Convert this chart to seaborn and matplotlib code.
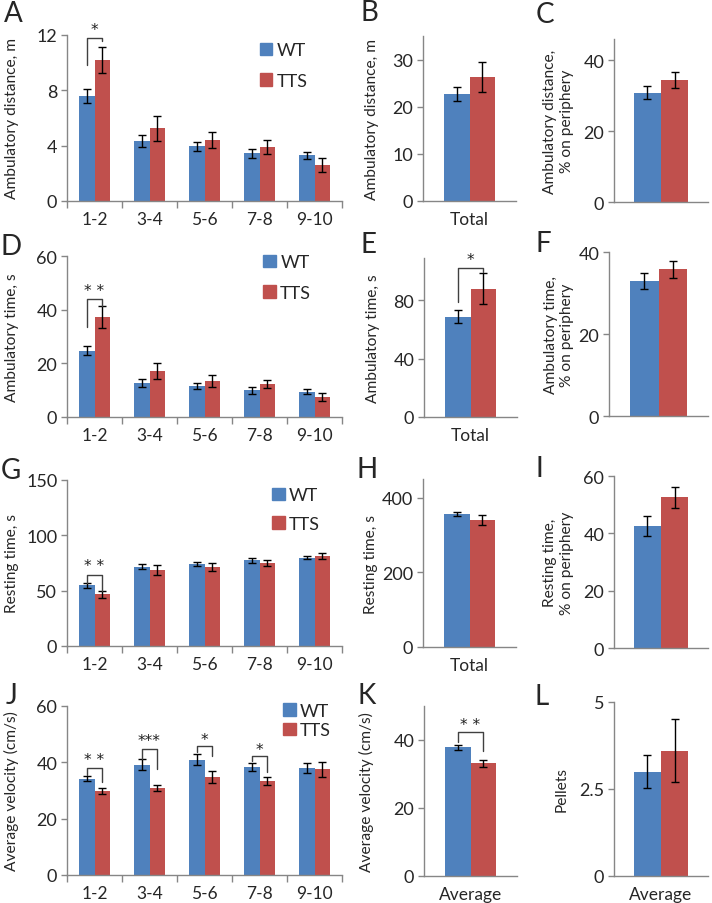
import numpy as np
import pandas as pd
import matplotlib
matplotlib.use("Agg")
import matplotlib.pyplot as plt
import matplotlib.patches as mpatches
from matplotlib.container import BarContainer
import seaborn as sns

sns.set_style("white")
plt.rcParams['font.family'] = ['Lato', 'DejaVu Sans']

# ---------------- data ----------------
periods = ["1-2", "3-4", "5-6", "7-8", "9-10"]
groups = ["WT", "TTS"]

dist_wt = [7.6, 4.35, 3.95, 3.45, 3.3]
dist_wt_err = [0.5, 0.45, 0.3, 0.33, 0.25]
dist_tts = [10.2, 5.25, 4.4, 3.9, 2.6]
dist_tts_err = [0.95, 0.9, 0.6, 0.48, 0.48]

time_wt = [24.7, 12.6, 11.5, 9.9, 9.4]
time_wt_err = [1.7, 1.5, 1.2, 1.2, 1.0]
time_tts = [37.2, 17.3, 13.4, 12.2, 7.4]
time_tts_err = [4.0, 3.0, 2.1, 1.5, 1.6]

rest_wt = [54.8, 71.7, 74.1, 77.4, 79.8]
rest_wt_err = [2.3, 2.4, 2.0, 2.4, 1.6]
rest_tts = [46.7, 68.7, 71.1, 74.7, 81.6]
rest_tts_err = [3.0, 4.6, 3.5, 2.6, 2.8]

vel_wt = [34.2, 39.2, 41.0, 38.4, 38.0]
vel_wt_err = [1.0, 1.9, 1.9, 1.5, 1.7]
vel_tts = [29.9, 31.0, 34.8, 33.4, 37.5]
vel_tts_err = [1.1, 1.1, 2.0, 1.4, 2.6]

# single-category panels: [WT, TTS], [WT err, TTS err]
total_dist = [22.7, 26.3]; total_dist_err = [1.5, 3.1]
perif_dist = [30.9, 34.4]; perif_dist_err = [1.9, 2.3]
total_time = [68.6, 88.0]; total_time_err = [4.5, 10.7]
perif_time = [33.0, 35.8]; perif_time_err = [2.0, 2.1]
total_rest = [356.6, 340.7]; total_rest_err = [6.0, 14.0]
perif_rest = [42.6, 52.6]; perif_rest_err = [3.5, 3.6]
avg_vel = [37.8, 33.1]; avg_vel_err = [0.8, 1.1]
pellets = [3.0, 3.6]; pellets_err = [0.48, 0.9]

BLUE = "#4F81BD"
RED = "#C0504D"
GRAY = "#868686"

W, H = 712, 904
fig = plt.figure(figsize=(W / 100, H / 100), dpi=100)


def add_ax(x0, x1, ytop, ybot):
    return fig.add_axes([x0 / W, 1 - ybot / H, (x1 - x0) / W, (ybot - ytop) / H])


def style(ax, ylim, yticks, fmt=None):
    ax.set_ylim(*ylim)
    ax.set_yticks(yticks)
    if fmt:
        ax.set_yticklabels([fmt(t) for t in yticks])
    for s in ["top", "right"]:
        ax.spines[s].set_visible(False)
    for s in ["left", "bottom"]:
        ax.spines[s].set_color(GRAY)
        ax.spines[s].set_linewidth(1.0)
    ax.tick_params(axis="y", direction="out", length=4, color=GRAY, width=1,
                   labelsize=13, pad=3, left=True)
    ax.tick_params(axis="x", labelsize=12.5, length=0, pad=7)
    ax.set_xlabel("")


def bar_conts(ax):
    return [c for c in ax.containers if isinstance(c, BarContainer)]


def bar_centers(ax):
    return [[b.get_x() + b.get_width() / 2 for b in c] for c in bar_conts(ax)]


def group_panel(ax, wt, wt_err, tts, tts_err, width):
    df = pd.DataFrame({
        "period": periods * 2,
        "group": ["WT"] * len(periods) + ["TTS"] * len(periods),
        "value": list(wt) + list(tts),
    })
    sns.barplot(data=df, x="period", y="value", hue="group", hue_order=groups,
                palette=[BLUE, RED], width=width, errorbar=None, saturation=1,
                legend=False, ax=ax, linewidth=0, edgecolor="none")
    centers = bar_centers(ax)
    for xs, vals, errs in zip(centers, [wt, tts], [wt_err, tts_err]):
        ax.errorbar(xs, vals, yerr=errs, fmt="none", ecolor="black",
                    elinewidth=1, capsize=2.6, capthick=1)
    ax.set_xlim(-0.5, len(periods) - 0.5)
    ax.set_xticks(np.arange(len(periods) + 1) - 0.5, minor=True)
    ax.tick_params(axis="x", which="minor", length=5, color=GRAY, width=1,
                   bottom=True, direction="out")


def single_panel(ax, vals, errs, cat, width):
    df = pd.DataFrame({"cat": [cat, cat], "group": groups, "value": vals})
    sns.barplot(data=df, x="cat", y="value", hue="group", hue_order=groups,
                palette=[BLUE, RED], width=width, errorbar=None, saturation=1,
                legend=False, ax=ax, linewidth=0, edgecolor="none")
    xs = [c[0] for c in bar_centers(ax)]
    for x, v, e in zip(xs, vals, errs):
        ax.errorbar([x], [v], yerr=[e], fmt="none", ecolor="black",
                    elinewidth=1, capsize=2.6, capthick=1)
    ax.set_xlim(-0.5, 0.5)


def bracket(ax, x_left, x_right, y_left, y_top, y_right, label, y_text):
    ax.plot([x_left, x_left, x_right, x_right], [y_left, y_top, y_top, y_right],
            color="#404040", lw=1.0, clip_on=False)
    ax.text((x_left + x_right) / 2, y_text, label, ha="center", va="center",
            fontsize=11, clip_on=False, color="#202020",
            family=["DejaVu Sans"])


def legend(ax, x, y, spacing):
    handles = [mpatches.Patch(color=BLUE, label="WT"),
               mpatches.Patch(color=RED, label="TTS")]
    ax.legend(handles=handles, loc="upper left", bbox_to_anchor=(x, y),
              frameon=False, fontsize=13, handlelength=0.7, handleheight=0.7,
              handletextpad=0.25, labelspacing=spacing, borderpad=0,
              borderaxespad=0)


def letter(x, y, s):
    fig.text(x / W, 1 - y / H, s, fontsize=20, ha="center", va="center")


def ylab(ax, text, xfrac):
    ax.set_ylabel(text, fontsize=11.2, multialignment="center")
    ax.yaxis.set_label_coords(xfrac, 0.5)


# ---------------- Row 1 ----------------
axA = add_ax(67, 342, 36, 202)
group_panel(axA, dist_wt, dist_wt_err, dist_tts, dist_tts_err, 0.58)
style(axA, (0, 12), [0, 4, 8, 12])
ylab(axA, "Ambulatory distance, m", -0.175)
legend(axA, 0.70, 0.955, 0.8)
c = bar_centers(axA)
bracket(axA, c[0][0], c[1][0], 9.8, 11.8, 11.6, "*", 12.4)

axB = add_ax(423, 516, 37, 202)
single_panel(axB, total_dist, total_dist_err, "Total", 0.55)
style(axB, (0, 35), [0, 10, 20, 30])
ylab(axB, "Ambulatory distance, m", -0.47)

axC = add_ax(614, 708, 40, 203)
single_panel(axC, perif_dist, perif_dist_err, "", 0.58)
style(axC, (0, 46), [0, 20, 40])
ylab(axC, "Ambulatory distance,\n% on periphery", -0.43)

# ---------------- Row 2 ----------------
axD = add_ax(67, 342, 257, 418)
group_panel(axD, time_wt, time_wt_err, time_tts, time_tts_err, 0.58)
style(axD, (0, 60), [0, 20, 40, 60])
ylab(axD, "Ambulatory time, s", -0.175)
legend(axD, 0.713, 1.01, 0.8)
c = bar_centers(axD)
bracket(axD, c[0][0], c[1][0], 33.4, 43.9, 41.2, "* *", 47.0)

axE = add_ax(424, 517, 259, 418)
single_panel(axE, total_time, total_time_err, "Total", 0.55)
style(axE, (0, 109), [0, 40, 80])
ylab(axE, "Ambulatory time, s", -0.47)
c = bar_centers(axE)
bracket(axE, c[0][0], c[1][0], 78.9, 102.4, 99.5, "*", 108.0)

axF = add_ax(609, 708, 253, 417)
single_panel(axF, perif_time, perif_time_err, "", 0.57)
style(axF, (0, 40), [0, 20, 40])
ylab(axF, "Ambulatory time,\n% on periphery", -0.35)

# ---------------- Row 3 ----------------
axG = add_ax(67, 342, 481, 647)
group_panel(axG, rest_wt, rest_wt_err, rest_tts, rest_tts_err, 0.58)
style(axG, (0, 150), [0, 50, 100, 150])
ylab(axG, "Resting time, s", -0.175)
legend(axG, 0.745, 0.955, 0.7)
c = bar_centers(axG)
bracket(axG, c[0][0], c[1][0], 56.6, 64.2, 49.7, "* *", 72.3)

axH = add_ax(423, 516, 480, 648)
single_panel(axH, total_rest, total_rest_err, "Total", 0.55)
style(axH, (0, 450), [0, 200, 400])
ylab(axH, "Resting time, s", -0.48)

axI = add_ax(614, 708, 477, 649)
single_panel(axI, perif_rest, perif_rest_err, "", 0.58)
style(axI, (0, 60), [0, 20, 40, 60])
ylab(axI, "Resting time,\n% on periphery", -0.43)

# ---------------- Row 4 ----------------
axJ = add_ax(67, 342, 707, 876)
group_panel(axJ, vel_wt, vel_wt_err, vel_tts, vel_tts_err, 0.58)
style(axJ, (0, 60), [0, 20, 40, 60])
ylab(axJ, "Average velocity (cm/s)", -0.175)
legend(axJ, 0.785, 1.02, 0.2)
c = bar_centers(axJ)
bracket(axJ, c[0][0], c[1][0], 35.4, 37.9, 33.1, "* *", 41.1)
bracket(axJ, c[0][1], c[1][1], 41.1, 44.6, 37.8, "***", 47.6)
bracket(axJ, c[0][2], c[1][2], 43.5, 45.8, 42.3, "*", 48.2)
bracket(axJ, c[0][3], c[1][3], 40.5, 42.3, 36.4, "*", 44.6)

axK = add_ax(424, 517, 707, 877)
single_panel(axK, avg_vel, avg_vel_err, "Average", 0.55)
style(axK, (0, 50), [0, 20, 40])
ylab(axK, "Average velocity (cm/s)", -0.54)
c = bar_centers(axK)
bracket(axK, c[0][0], c[1][0], 39.5, 42.3, 36.9, "* *", 44.7)

axL = add_ax(614, 708, 703, 877)
single_panel(axL, pellets, pellets_err, "Average", 0.58)
style(axL, (0, 5), [0, 2.5, 5], fmt=lambda t: f"{t:g}")
ylab(axL, "Pellets", -0.48)

# ---------------- panel letters ----------------
for (x, y, s) in [(13, 14, "A"), (369, 13, "B"), (545, 15, "C"),
                  (11, 247, "D"), (368, 245, "E"), (543, 244, "F"),
                  (11, 471, "G"), (367, 470, "H"), (539, 469, "I"),
                  (12, 696, "J"), (367, 696, "K"), (542, 697, "L")]:
    letter(x, y, s)

fig.savefig("out.png", dpi=100, facecolor="white")
